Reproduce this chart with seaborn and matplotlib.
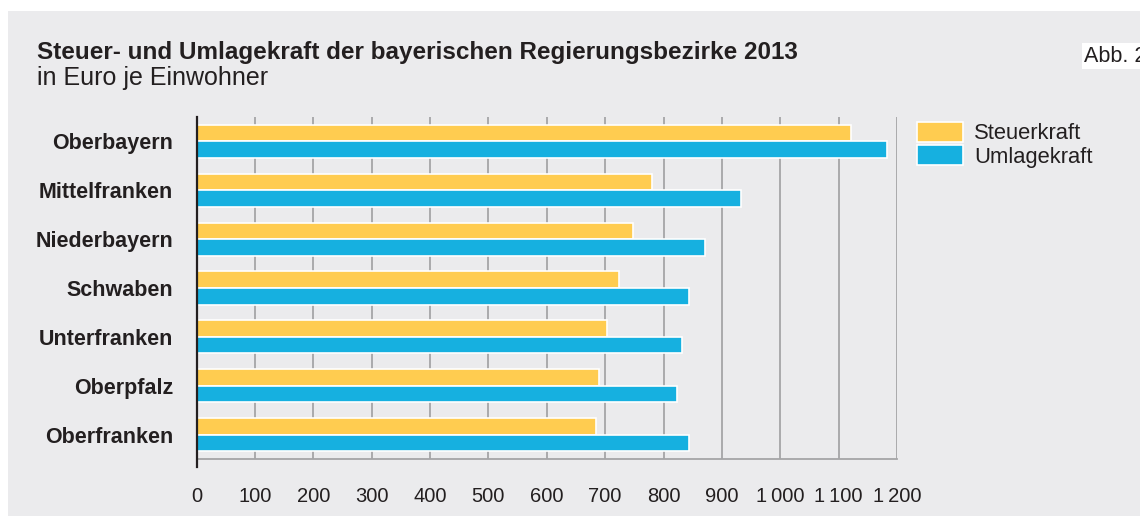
import matplotlib
matplotlib.use("Agg")
import matplotlib.pyplot as plt
import matplotlib.patches as mpatches
import seaborn as sns
import pandas as pd

# Daten (Euro je Einwohner, 2013)
bezirke = ["Oberbayern", "Mittelfranken", "Niederbayern", "Schwaben",
           "Unterfranken", "Oberpfalz", "Oberfranken"]
steuerkraft = [1122, 781, 748, 724, 703, 690, 685]
umlagekraft = [1183, 933, 871, 843, 831, 823, 844]
serien = ["Steuerkraft", "Umlagekraft"]
farben = ["#FFCC50", "#16B0E0"]
xticks = [0, 100, 200, 300, 400, 500, 600, 700, 800, 900, 1000, 1100, 1200]
xticklabels = ["0", "100", "200", "300", "400", "500", "600", "700", "800",
               "900", "1\u2009000", "1\u2009100", "1\u2009200"]

Datos = pd.DataFrame({
    "Bezirk": bezirke * 2,
    "Wert": steuerkraft + umlagekraft,
    "Art": [serien[0]] * len(bezirke) + [serien[1]] * len(bezirke),
})

sns.set_style("white")
plt.rcParams["font.family"] = ["Liberation Sans", "DejaVu Sans"]

bg = "#EBEBED"
fig = plt.figure(figsize=(11.4, 5.16), dpi=100, facecolor="white")
fig.patches.append(mpatches.Rectangle((8 / 1140, 0), 1, 1 - 11 / 516,
                                      transform=fig.transFigure,
                                      facecolor=bg, edgecolor="none", zorder=-10))

ax = fig.add_axes([196.5 / 1140, (516 - 459) / 516, (897 - 196.5) / 1140, (459 - 117) / 516])
ax.set_facecolor(bg)

sns.barplot(data=Datos, y="Bezirk", x="Wert", hue="Art", order=bezirke,
            hue_order=serien, palette=farben, orient="h", width=0.68,
            edgecolor="white", linewidth=1.2, saturation=1, ax=ax, legend=False,
            zorder=3)

ax.set_xlim(0, 1200)
ax.set_ylim(6.5, -0.5)
ax.set_xticks(xticks)
ax.set_xticklabels(xticklabels, fontsize=14.5, color="#231F20")
ax.set_yticks(range(len(bezirke)))
ax.set_yticklabels(bezirke, fontsize=15.5, fontweight="bold", color="#231F20")
ax.tick_params(axis="x", length=0, pad=20)
ax.tick_params(axis="y", length=0, pad=17)
ax.set_xlabel("")
ax.set_ylabel("")
ax.grid(axis="x", color="#A5A5A7", linewidth=1.3, zorder=0)
ax.set_axisbelow(True)

for s in ["top", "right"]:
    ax.spines[s].set_visible(False)
ax.spines["bottom"].set_color("#A5A5A7")
ax.spines["bottom"].set_linewidth(1.3)
ax.spines["left"].set_color("#231F20")
ax.spines["left"].set_linewidth(1.6)
ax.spines["left"].set_bounds(6.5 + 8 / 48.9, -0.5)
ax.spines["left"].set_zorder(5)

# Legende
handles = [mpatches.Patch(facecolor=c, edgecolor="white", linewidth=1.2) for c in farben]
fig.legend(handles, serien, loc="upper left", bbox_to_anchor=(917 / 1140, 1 - 122 / 516),
           frameon=False, fontsize=15.8, handlelength=2.1, handleheight=1.0,
           labelspacing=0.05, handletextpad=0.5, borderpad=0, borderaxespad=0,
           labelcolor="#231F20")

fig.text(37 / 1140, 1 - 53 / 516, "Steuer- und Umlagekraft der bayerischen Regierungsbezirke 2013",
         fontsize=17.5, fontweight="bold", color="#231F20", va="center", ha="left")
fig.text(37 / 1140, 1 - 78 / 516, "in Euro je Einwohner",
         fontsize=18, color="#231F20", va="center", ha="left")
fig.text(1084 / 1140, 1 - 56 / 516, "Abb. 2", fontsize=15.5, color="#231F20",
         va="center", ha="left",
         bbox=dict(facecolor="white", edgecolor="none", pad=1.5))

fig.savefig("out.png", dpi=100, facecolor="white")
